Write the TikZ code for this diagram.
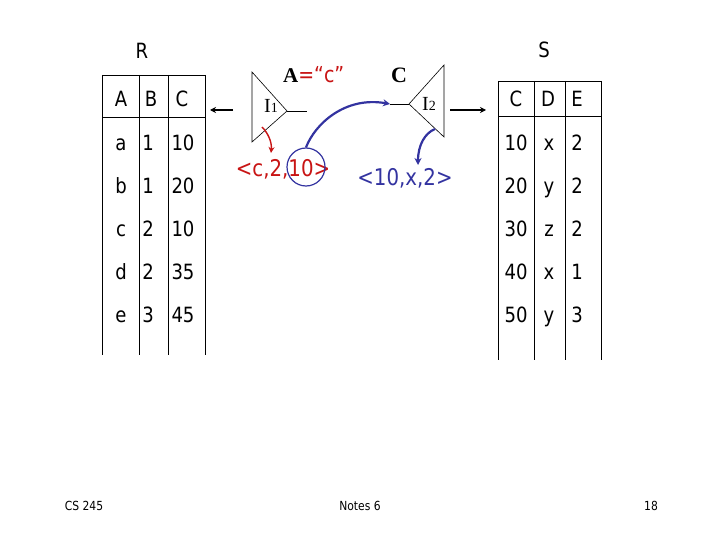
\documentclass[tikz,border=0pt]{standalone}
\usepackage{fontspec}
\setmainfont[FakeStretch=0.86]{DejaVu Sans}
\newfontfamily\serifA{Liberation Serif}
\usetikzlibrary{arrows.meta}
\definecolor{myred}{RGB}{200,20,20}
\definecolor{myblue}{RGB}{51,51,160}
\tikzset{
  cell/.style={anchor=base,inner sep=0pt,font=\fontsize{21}{23}\selectfont},
  title/.style={anchor=base,inner sep=0pt,font=\fontsize{21}{23}\selectfont},
  foot/.style={anchor=base,inner sep=0pt,font=\fontsize{12.5}{14}\selectfont},
  tline/.style={line width=0.8pt},
  tri/.style={line width=0.6pt},
  bigarrow/.style={line width=1.6pt,-{Stealth[length=6pt,width=6pt]}},
  bluearrow/.style={draw=myblue,line width=2.2pt,-{Stealth[length=7pt,width=7pt]}},
  redarrow/.style={draw=myred,line width=1.4pt,-{Stealth[length=6pt,width=6pt]}},
  tuple/.style={anchor=base,inner sep=0pt,font=\fontsize{23}{25}\selectfont},
  ixlab/.style={anchor=base,inner sep=0pt,font=\serifA\fontsize{20}{22}\selectfont},
}
\begin{document}
\begin{tikzpicture}[x=1pt,y=-1pt]
\useasboundingbox (0,0) rectangle (720,540);

% ---- table R
\node[title] (Rname) at (142,59) {R};
\foreach \x in {102,139,168,205} \draw[tline] (\x,75) -- (\x,355);
\draw[tline] (102,75) -- (205,75);
\draw[tline] (102,117) -- (205,117);
\node[cell] (RhA) at (121,107) {A};
\node[cell] (RhB) at (151,107) {B};
\node[cell] (RhC) at (182,107) {C};
\foreach \a/\b/\c [count=\i] in {a/1/10,b/1/20,c/2/10,d/2/35,e/3/45}{
  \node[cell] (ra\i) at (121,107.5+43*\i) {\a};
  \node[cell] (rb\i) at (148,107.5+43*\i) {\b};
  \node[cell] (rc\i) at (183,107.5+43*\i) {\c};
}

% ---- table S
\node[title] (Sname) at (544,58) {S};
\foreach \x in {498,534,565,601} \draw[tline] (\x,81) -- (\x,360);
\draw[tline] (498,81) -- (601,81);
\draw[tline] (498,116) -- (601,116);
\node[cell] (ShC) at (516,107) {C};
\node[cell] (ShD) at (548,107) {D};
\node[cell] (ShE) at (577,107) {E};
\foreach \a/\b/\c [count=\i] in {10/x/2,20/y/2,30/z/2,40/x/1,50/y/3}{
  \node[cell] (sc\i) at (516,107.5+43*\i) {\a};
  \node[cell] (sd\i) at (549,107.5+43*\i) {\b};
  \node[cell] (se\i) at (577,107.5+43*\i) {\c};
}

% ---- index I1
\draw[tri] (252,72) -- (252,142) -- (287,111) -- cycle;
\coordinate (i1apex) at (287,111);
\coordinate (i1out) at (307,111);
\draw[tri] (i1apex) -- (i1out);
\node[ixlab] (I1) at (271,113) {I\fontsize{14}{15}\selectfont 1};
\coordinate (arrLs) at (233,110);
\coordinate (arrLe) at (210,110);
\draw[bigarrow] (arrLs) -- (arrLe);

% ---- index I2
\draw[tri] (444,65) -- (444,137) -- (409,104) -- cycle;
\coordinate (i2apex) at (409,104);
\coordinate (i2in) at (390,104);
\draw[tri] (i2in) -- (i2apex);
\node[ixlab] (I2) at (429,111) {I\fontsize{14}{15}\selectfont 2};
\coordinate (arrRs) at (450,110);
\coordinate (arrRe) at (486,110);
\draw[bigarrow] (arrRs) -- (arrRe);

% ---- conditions
\node[anchor=base west,inner sep=0pt] (cond) at (283,83)
  {{\serifA\bfseries\fontsize{21}{22}\selectfont A}{\color{myred}\fontsize{22}{24}\selectfont =“c”}};
\node[anchor=base,inner sep=0pt,font=\serifA\bfseries\fontsize{22}{23}\selectfont] (condC) at (399,83) {C};

% ---- tuples
\node[tuple,text=myred] (tupR) at (283,177) {<c,2,10>};
\node[tuple,text=myblue] (tupB) at (405,186) {<10,x,2>};
\node[draw=myblue,circle,minimum size=38pt,inner sep=0pt,line width=1.2pt] (ring) at (306,167) {};

% ---- arrows
\coordinate (redS) at (262,127);
\coordinate (redE) at (271,153);
\draw[redarrow] (redS) .. controls (268,133) and (272,142) .. (redE);
\draw[bluearrow] (ring.north) .. controls (315,124) and (345,96) .. (i2in);
\coordinate (blS) at (435,129);
\coordinate (blE) at (418,165);
\draw[bluearrow] (blS) .. controls (425,133) and (418,145) .. (blE);

% ---- footer
\node[foot] (f1) at (84,510) {CS 245};
\node[foot] (f2) at (360,510) {Notes 6};
\node[foot] (f3) at (651,510) {18};
\end{tikzpicture}
\end{document}
